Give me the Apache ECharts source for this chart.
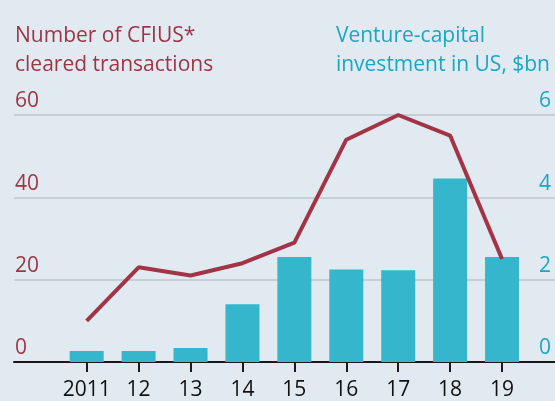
<!DOCTYPE html>
<html>
<head>
<meta charset="utf-8">
<script src="https://cdn.jsdelivr.net/npm/echarts@6/dist/echarts.min.js"></script>
<style>
	html, body { margin: 0; padding: 0; background: #e2eaf1; }
	#chart { width: 555px; height: 401px; }
</style>
</head>
<body>
<div id="chart"></div>
<script>
const years = [2011, 2012, 2013, 2014, 2015, 2016, 2017, 2018, 2019];
// CFIUS cleared transactions (left axis)
const cfiusDeals = [10, 23, 21, 24, 29, 54, 60, 55, 25];
// venture-capital investment in US, $bn (right axis)
const vcInvestment = [0.27, 0.27, 0.34, 1.4, 2.55, 2.25, 2.23, 4.46, 2.55];

const leftTicks = [0, 20, 40, 60];
const rightTicks = [0, 2, 4, 6];

const red = "#9e3446";
const cyan = "#1aa6c5";
const font = "Open Sans";

const chart = echarts.init(document.getElementById("chart"), null, { renderer: "canvas" });

chart.setOption({
	backgroundColor : "#e2eaf1",
	animation       : false,
	textStyle       : { fontFamily: font },
	title           : {
		text      : "Number of CFIUS*\ncleared transactions",
		left      : 15,
		top       : 22,
		padding   : 0,
		textStyle : {
			color      : red,
			fontSize   : 21,
			fontWeight : "normal",
			fontFamily : font,
			lineHeight : 29,
		},
	},
	// right-hand title, right aligned line by line
	graphic: [
		{
			type  : "text",
			right : 5,
			top   : 22,
			style : {
				text       : "Venture-capital\ninvestment in US, $bn",
				fill       : cyan,
				font       : `21px "${font}"`,
				lineHeight : 29,
				align      : "right",
			},
		},
	],
	grid: {
		left   : 14,
		right  : 0,
		top    : 115,
		bottom : 37,
	},
	xAxis: {
		type     : "value",
		min      : 2009.6,
		max      : 2020.02,
		axisLine : {
			show      : true,
			lineStyle : { color: "#1a1a1a", width: 2 },
		},
		axisTick: {
			show         : true,
			customValues : years,
			length       : 10,
			lineStyle    : { color: "#1a1a1a", width: 2 },
		},
		axisLabel: {
			customValues : years,
			color        : "#111",
			fontSize     : 21,
			fontFamily   : font,
			margin       : 18,
			formatter    : v => (v == years[0] ? String(v) : String(v).slice(2)),
		},
		splitLine: { show: false },
	},
	yAxis: [
		{
			type      : "value",
			min       : leftTicks[0],
			max       : leftTicks[leftTicks.length - 1],
			interval  : 20,
			axisLine  : { show: false },
			axisTick  : { show: false },
			axisLabel : {
				inside        : true,
				margin        : 1,
				color         : red,
				fontSize      : 21,
				fontFamily    : font,
				verticalAlign : "bottom",
				padding       : [0, 0, 3, 0],
			},
			splitLine: {
				lineStyle: { color: "#c6cfd7", width: 2 },
			},
		},
		{
			type      : "value",
			position  : "right",
			min       : rightTicks[0],
			max       : rightTicks[rightTicks.length - 1],
			interval  : 2,
			axisLine  : { show: false },
			axisTick  : { show: false },
			axisLabel : {
				inside        : true,
				margin        : 4,
				color         : cyan,
				fontSize      : 21,
				fontFamily    : font,
				verticalAlign : "bottom",
				padding       : [0, 0, 3, 0],
			},
			splitLine: { show: false },
		},
	],
	series: [
		{
			type       : "bar",
			yAxisIndex : 1,
			barWidth   : 34,
			itemStyle  : { color: "#35b6cd" },
			data       : years.map((y, i) => [y, vcInvestment[i]]),
		},
		{
			type       : "line",
			yAxisIndex : 0,
			showSymbol : false,
			z          : 5,
			lineStyle  : { color: "#a23447", width: 4 },
			data       : years.map((y, i) => [y, cfiusDeals[i]]),
		},
	],
});
</script>
</body>
</html>
